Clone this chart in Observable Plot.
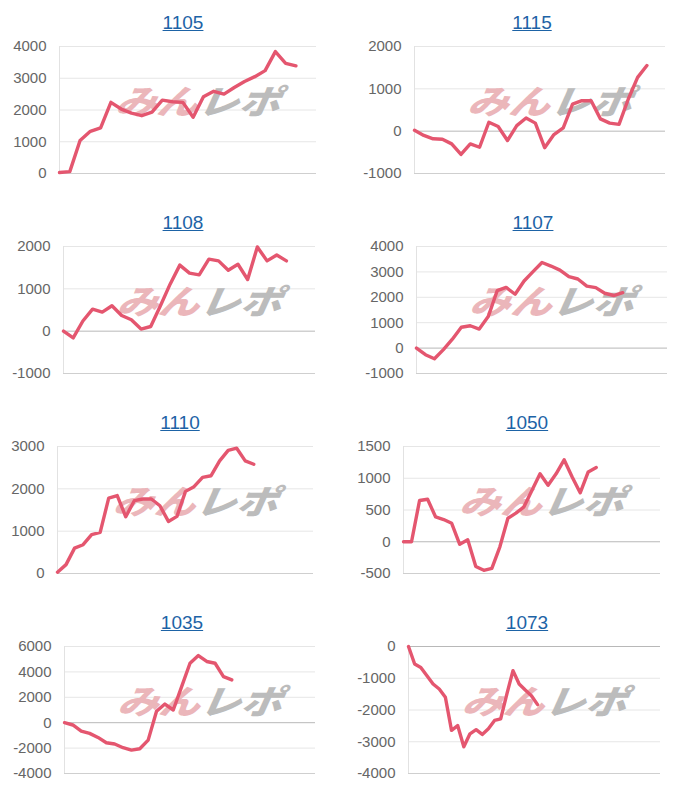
<!DOCTYPE html>
<html><head><meta charset="utf-8">
<script src="https://cdn.jsdelivr.net/npm/d3@7"></script>
<script src="https://cdn.jsdelivr.net/npm/@observablehq/plot@0.6"></script>
<style>
body{margin:0;background:#fff;font-family:"Liberation Sans",Arial,sans-serif;}
#grid{position:relative;width:700px;height:800px;overflow:hidden;}
.panel{position:absolute;width:350px;height:200px;}
.title{position:absolute;top:10px;font-size:19px;line-height:26px;color:#1d63a6;text-decoration:underline;transform:translateX(-50%);white-space:nowrap;}
.panel svg{position:absolute;top:36px;left:0;}
</style></head><body><div id="grid"></div>
<script>
// ---- data ----
const names = ["1105", "1115", "1108", "1107", "1110", "1050", "1035", "1073"];
const v1105 = [30, 60, 1040, 1330, 1440, 2240, 2030, 1900, 1820, 1930, 2310, 2260, 2240, 1770, 2420, 2590, 2500, 2710, 2900, 3050, 3240, 3840, 3470, 3390];
const v1115 = [20, -100, -180, -190, -300, -550, -300, -380, 210, 110, -220, 130, 310, 190, -390, -80, 80, 640, 720, 720, 290, 190, 160, 760, 1270, 1550];
const v1108 = [0, -160, 240, 520, 450, 600, 370, 270, 50, 110, 600, 1110, 1560, 1370, 1330, 1700, 1660, 1440, 1580, 1220, 1990, 1660, 1800, 1660];
const v1107 = [0, -260, -420, -60, 350, 820, 880, 750, 1240, 2260, 2390, 2120, 2640, 3010, 3370, 3230, 3070, 2810, 2720, 2440, 2380, 2160, 2070, 2180];
const v1110 = [30, 210, 600, 680, 920, 970, 1780, 1840, 1340, 1720, 1760, 1760, 1600, 1230, 1350, 1940, 2050, 2270, 2310, 2660, 2910, 2960, 2660, 2580];
const v1050 = [0, 0, 650, 670, 390, 350, 290, -40, 30, -390, -450, -420, -80, 370, 450, 550, 810, 1070, 890, 1070, 1290, 1020, 770, 1100, 1170];
const v1035 = [0, -180, -660, -840, -1160, -1580, -1680, -1970, -2160, -2050, -1370, 900, 1470, 1000, 2840, 4680, 5290, 4820, 4680, 3630, 3370];
const v1073 = [0, -550, -660, -920, -1180, -1340, -1600, -2640, -2490, -3160, -2750, -2620, -2770, -2590, -2330, -2280, -1500, -760, -1180, -1370, -1550, -1830];
const series = [v1105, v1115, v1108, v1107, v1110, v1050, v1035, v1073];
// number of x slots on each panel's category axis
const slots = [25, 27, 26, 28, 30, 32, 30, 41];
// y tick labels of each panel
const ticks1105 = [0, 1000, 2000, 3000, 4000];
const ticks1115 = [-1000, 0, 1000, 2000];
const ticks1108 = [-1000, 0, 1000, 2000];
const ticks1107 = [-1000, 0, 1000, 2000, 3000, 4000];
const ticks1110 = [0, 1000, 2000, 3000];
const ticks1050 = [-500, 0, 500, 1000, 1500];
const ticks1035 = [-4000, -2000, 0, 2000, 4000, 6000];
const ticks1073 = [-4000, -3000, -2000, -1000, 0];
const tickSets = [ticks1105, ticks1115, ticks1108, ticks1107, ticks1110, ticks1050, ticks1035, ticks1073];
const watermarkParts = ["みん", "レポ"];

// ---- layout (absolute page px) ----
const plotLeft  = [59, 414, 63, 416, 57, 403, 64, 408];
const plotRight = [316, 665, 315, 667, 313, 660, 315, 660];
const titleX    = [183, 532, 183, 533, 180, 527, 182, 527];

const grid = document.getElementById("grid");
names.forEach((name, k) => {
  const col = k % 2, row = Math.floor(k / 2);
  const panelLeft = col * 350;
  const panel = document.createElement("div");
  panel.className = "panel";
  panel.style.left = panelLeft + "px";
  panel.style.top = (row * 200) + "px";
  const title = document.createElement("span");
  title.className = "title";
  title.textContent = name;
  title.style.left = (titleX[k] - panelLeft) + "px";
  panel.appendChild(title);

  const t = tickSets[k];
  const ymin = t[0], ymax = t[t.length - 1];
  const values = series[k];
  const data = values.map((v, i) => ({i, v}));
  const inner = t.filter(d => d !== ymin && d !== 0);
  const wmFont = {frameAnchor: "middle", dy: -6, fontSize: 38, fontWeight: 900, fontStyle: "italic", fontFamily: "'Noto Sans CJK JP', sans-serif", ariaDescription: "watermark"};
  const svg = Plot.plot({
    width: 350, height: 164,
    marginLeft: plotLeft[k] - panelLeft,
    marginRight: panelLeft + 350 - plotRight[k],
    marginTop: 10, marginBottom: 27,
    x: {domain: [0, slots[k]], axis: null},
    y: {domain: [ymin, ymax], ticks: t, tickSize: 0, tickPadding: 13, label: null, tickFormat: d => String(d)},
    style: {fontSize: "15px", fontFamily: "'Liberation Sans', Arial, sans-serif", color: "#666", background: "transparent", overflow: "visible"},
    marks: [
      Plot.ruleY(inner, {stroke: "#e6e6e6", strokeWidth: 1}),
      Plot.ruleY([ymin], {stroke: "#cfcfcf", strokeWidth: 1}),
      Plot.ruleY(t.includes(0) && ymin !== 0 ? [0] : [], {stroke: "#b8b8b8", strokeWidth: 1}),
      Plot.ruleX([0], {stroke: "#e2e2e2", strokeWidth: 1}),
      Plot.text([watermarkParts[0]], {...wmFont, text: d => d, dx: -27, fill: "#ebb6ba"}),
      Plot.text([watermarkParts[1]], {...wmFont, text: d => d, dx: 49, fill: "#bcbcbc"}),
      Plot.line(data, {x: "i", y: "v", stroke: "#e4566f", strokeWidth: 3.4, strokeLinejoin: "round", strokeLinecap: "round"})
    ]
  });
  panel.appendChild(svg);
  grid.appendChild(panel);

  // shape the watermark: wider, flatter, slanted
  const wms = svg.querySelectorAll('g[aria-description="watermark"]');
  if (wms.length) {
    const wrap = document.createElementNS("http://www.w3.org/2000/svg", "g");
    wms[0].parentNode.insertBefore(wrap, wms[0]);
    wms.forEach(g => wrap.appendChild(g));
    const b = wrap.getBBox();
    const cx = b.x + b.width / 2, cy = b.y + b.height / 2;
    wrap.setAttribute("transform", `translate(${cx},${cy}) skewX(-8) scale(1.08,0.88) translate(${-cx},${-cy})`);
  }
});
</script>
</body></html>
